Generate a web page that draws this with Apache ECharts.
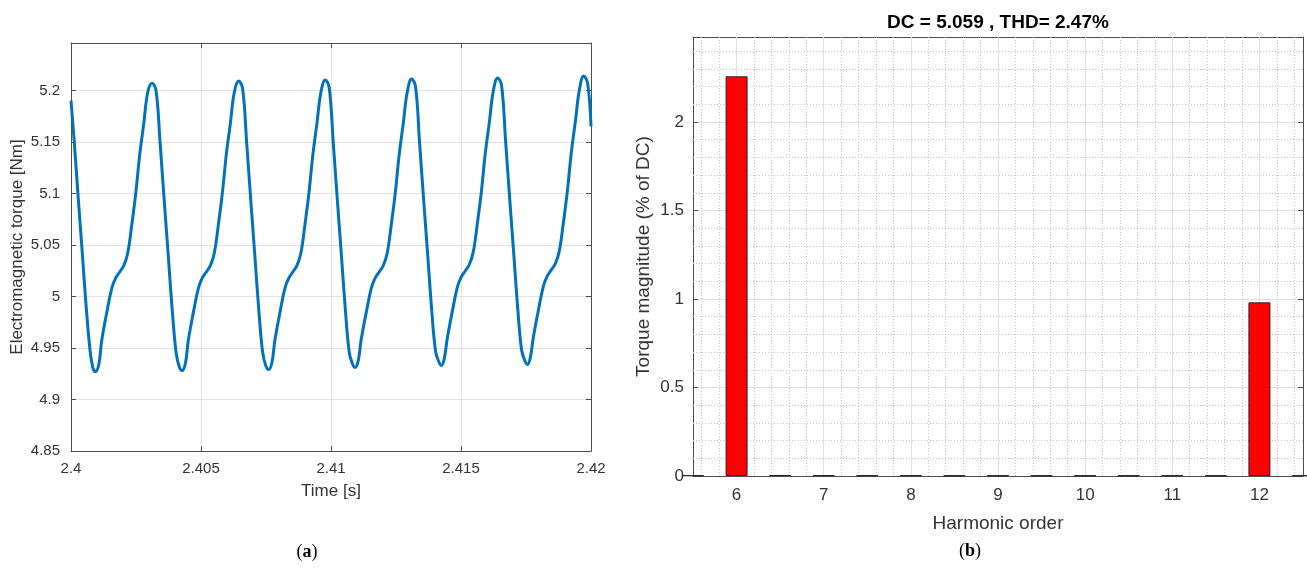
<!DOCTYPE html>
<html>
<head>
<meta charset="utf-8">
<script src="https://cdn.jsdelivr.net/npm/echarts@6/dist/echarts.min.js"></script>
<style>
  html, body { margin: 0; padding: 0; background: #fff; }
  #main { width: 1307px; height: 570px; }
</style>
</head>
<body>
<div id="main"></div>
<script>
// (a) torque waveform
const timeS = [
  2.40000, 2.40013, 2.40028, 2.40044, 2.40059, 2.40074, 2.40084, 2.40093,
  2.40107, 2.40118, 2.40138, 2.40157, 2.40172, 2.40188, 2.40203, 2.40218, 2.40234, 2.40249, 2.40264, 2.40280, 2.40295, 2.40312,
  2.40327, 2.40343, 2.40358, 2.40374, 2.40389, 2.40404, 2.40416, 2.40427,
  2.40440, 2.40451, 2.40471, 2.40490, 2.40505, 2.40521, 2.40536, 2.40551, 2.40567, 2.40582, 2.40597, 2.40613, 2.40628, 2.40645,
  2.40660, 2.40676, 2.40691, 2.40707, 2.40722, 2.40737, 2.40749, 2.40760,
  2.40773, 2.40784, 2.40804, 2.40823, 2.40838, 2.40854, 2.40869, 2.40884, 2.40900, 2.40915, 2.40930, 2.40946, 2.40961, 2.40978,
  2.40993, 2.41009, 2.41024, 2.41040, 2.41055, 2.41070, 2.41082, 2.41093,
  2.41105, 2.41116, 2.41136, 2.41155, 2.41170, 2.41186, 2.41201, 2.41216, 2.41232, 2.41247, 2.41262, 2.41278, 2.41293, 2.41310,
  2.41325, 2.41341, 2.41356, 2.41372, 2.41387, 2.41402, 2.41414, 2.41425,
  2.41436, 2.41447, 2.41467, 2.41486, 2.41501, 2.41517, 2.41532, 2.41547, 2.41563, 2.41578, 2.41593, 2.41609, 2.41624, 2.41641,
  2.41656, 2.41672, 2.41687, 2.41703, 2.41718, 2.41733, 2.41745, 2.41756,
  2.41767, 2.41778, 2.41798, 2.41817, 2.41832, 2.41848, 2.41863, 2.41878, 2.41894, 2.41909, 2.41924, 2.41940, 2.41955, 2.41972,
  2.41987, 2.42000
];
const torqueNm = [
  5.190, 5.148, 5.095, 5.040, 4.988, 4.946, 4.931, 4.927,
  4.934, 4.957, 4.985, 5.008, 5.018, 5.024, 5.030, 5.042, 5.070, 5.100, 5.137, 5.168, 5.198, 5.207,
  5.200, 5.148, 5.095, 5.040, 4.988, 4.946, 4.932, 4.928,
  4.935, 4.957, 4.985, 5.008, 5.018, 5.024, 5.030, 5.042, 5.070, 5.100, 5.137, 5.168, 5.198, 5.209,
  5.202, 5.148, 5.095, 5.040, 4.988, 4.946, 4.933, 4.929,
  4.936, 4.957, 4.985, 5.008, 5.018, 5.024, 5.030, 5.042, 5.070, 5.100, 5.137, 5.168, 5.198, 5.210,
  5.203, 5.148, 5.095, 5.040, 4.988, 4.946, 4.935, 4.931,
  4.938, 4.958, 4.985, 5.008, 5.018, 5.024, 5.030, 5.042, 5.070, 5.100, 5.137, 5.168, 5.198, 5.211,
  5.204, 5.148, 5.095, 5.040, 4.988, 4.947, 4.937, 4.933,
  4.940, 4.959, 4.986, 5.009, 5.019, 5.025, 5.031, 5.043, 5.071, 5.101, 5.138, 5.169, 5.199, 5.212,
  5.205, 5.149, 5.096, 5.041, 4.989, 4.948, 4.938, 4.934,
  4.941, 4.960, 4.987, 5.010, 5.020, 5.026, 5.032, 5.044, 5.072, 5.102, 5.139, 5.170, 5.200, 5.214,
  5.207, 5.165
];

// (b) harmonic spectrum
const harmonicOrder = [5.5, 6, 6.5, 7, 7.5, 8, 8.5, 9, 9.5, 10, 10.5, 11, 11.5, 12, 12.5];
const magnitudePct = [0.004, 2.258, 0.006, 0.005, 0.004, 0.004, 0.003, 0.003, 0.003, 0.003, 0.003, 0.003, 0.003, 0.981, 0.003];
const harmonicTicks = [6, 7, 8, 9, 10, 11, 12];

const FONT = 'Liberation Sans, Arial, sans-serif';
const AXIS_COLOR = '#4d4d4d';
const TEXT_COLOR = '#333';

// minor grid positions of the MATLAB style grid (b)
const xMinor = [];
for (let k = 28; k <= 62; k++) { if (k % 5 !== 0) xMinor.push(+(k * 0.2).toFixed(1)); }
const yMinor = [];
for (let k = 1; k <= 24; k++) { if (k % 5 !== 0) yMinor.push(+(k * 0.1).toFixed(1)); }

function stepLabel(step, digits) {
  return function (v) {
    const r = v / step;
    return Math.abs(r - Math.round(r)) < 1e-6 ? String(+v.toFixed(digits)) : '';
  };
}

function boxAxis(extra) {
  return Object.assign({
    axisLine: { onZero: false, lineStyle: { color: AXIS_COLOR, width: 1 } },
    axisTick: { inside: true, length: 5, lineStyle: { color: AXIS_COLOR } },
    axisLabel: { show: false },
    splitLine: { show: false }
  }, extra);
}

function gridLines(items, style) {
  return {
    type: 'line', xAxisIndex: 2, yAxisIndex: 2, data: [], z: 1,
    markLine: {
      silent: true, symbol: ['none', 'none'], animation: false, z: 1,
      label: { show: false },
      lineStyle: style,
      data: items
    }
  };
}

const chart = echarts.init(document.getElementById('main'));
chart.setOption({
  animation: false,
  textStyle: { fontFamily: FONT },
  grid: [
    { left: 71, right: 716, top: 43, bottom: 119 },
    { left: 693, right: 4, top: 37, bottom: 94 }
  ],
  xAxis: [
    boxAxis({
      type: 'value', gridIndex: 0, min: 2.4, max: 2.42, interval: 0.005,
      axisLabel: { show: true, fontSize: 15, color: TEXT_COLOR, margin: 10, formatter: stepLabel(0.005, 3) },
      splitLine: { show: true, lineStyle: { color: '#e3e3e3' } },
      name: 'Time [s]', nameLocation: 'middle', nameGap: 32,
      nameTextStyle: { fontSize: 17, color: TEXT_COLOR }
    }),
    boxAxis({ type: 'value', gridIndex: 0, position: 'top', min: 2.4, max: 2.42, interval: 0.005 }),
    boxAxis({
      type: 'value', gridIndex: 1, min: 5.5, max: 12.5,
      axisTick: { inside: true, length: 5, lineStyle: { color: AXIS_COLOR }, customValues: harmonicTicks },
      axisLabel: { show: true, fontSize: 17, color: TEXT_COLOR, margin: 11, customValues: harmonicTicks },
      name: 'Harmonic order', nameLocation: 'middle', nameGap: 38,
      nameTextStyle: { fontSize: 19, color: TEXT_COLOR }
    }),
    boxAxis({
      type: 'value', gridIndex: 1, position: 'top', min: 5.5, max: 12.5,
      axisTick: { inside: true, length: 5, lineStyle: { color: AXIS_COLOR }, customValues: harmonicTicks }
    })
  ],
  yAxis: [
    boxAxis({
      type: 'value', gridIndex: 0, min: 4.85, max: 5.246, interval: 0.05,
      axisLabel: { show: true, fontSize: 15, color: TEXT_COLOR, margin: 11, formatter: stepLabel(0.05, 2) },
      splitLine: { show: true, lineStyle: { color: '#e3e3e3' } },
      name: 'Electromagnetic torque [Nm]', nameLocation: 'middle', nameGap: 45,
      nameTextStyle: { fontSize: 17, color: TEXT_COLOR }
    }),
    boxAxis({ type: 'value', gridIndex: 0, position: 'right', min: 4.85, max: 5.246, interval: 0.05 }),
    boxAxis({
      type: 'value', gridIndex: 1, min: 0, max: 2.48, interval: 0.5,
      axisLabel: { show: true, fontSize: 17, color: TEXT_COLOR, margin: 9, formatter: stepLabel(0.5, 1) },
      splitLine: { show: true, lineStyle: { color: '#e0e0e0' } },
      name: 'Torque magnitude (% of DC)', nameLocation: 'middle', nameGap: 40,
      nameTextStyle: { fontSize: 19, color: TEXT_COLOR }
    }),
    boxAxis({ type: 'value', gridIndex: 1, position: 'right', min: 0, max: 2.48, interval: 0.5 })
  ],
  series: [
    {
      type: 'line', xAxisIndex: 0, yAxisIndex: 0,
      data: timeS.map((t, i) => [t, torqueNm[i]]),
      showSymbol: false, smooth: 0.4,
      lineStyle: { color: '#0072BD', width: 3 }
    },
    gridLines(
      xMinor.map(v => ({ xAxis: v })).concat(yMinor.map(v => ({ yAxis: v }))),
      { color: '#c4c4c4', type: [1, 2], width: 1 }
    ),
    gridLines(
      harmonicTicks.map(v => ({ xAxis: v })),
      { color: '#e0e0e0', type: 'solid', width: 1 }
    ),
    {
      type: 'bar', xAxisIndex: 2, yAxisIndex: 2,
      data: harmonicOrder.map((h, i) => [h, magnitudePct[i]]),
      barWidth: 22, z: 10,
      itemStyle: { color: '#ff0000', borderColor: '#262626', borderWidth: 1 }
    }
  ],
  graphic: [
    {
      type: 'text', x: 998, y: 23,
      style: {
        text: 'DC = 5.059 , THD= 2.47%', fill: '#000',
        font: 'bold 19px ' + FONT, textAlign: 'center', textVerticalAlign: 'middle'
      }
    },
    {
      type: 'text', x: 307, y: 552,
      style: {
        text: '{p|(}{b|a}{p|)}', textAlign: 'center', textVerticalAlign: 'middle',
        rich: {
          p: { fontFamily: 'Liberation Serif, serif', fontSize: 18, color: '#000' },
          b: { fontFamily: 'Liberation Serif, serif', fontSize: 18, fontWeight: 'bold', color: '#000' }
        }
      }
    },
    {
      type: 'text', x: 970, y: 551,
      style: {
        text: '{p|(}{b|b}{p|)}', textAlign: 'center', textVerticalAlign: 'middle',
        rich: {
          p: { fontFamily: 'Liberation Serif, serif', fontSize: 18, color: '#000' },
          b: { fontFamily: 'Liberation Serif, serif', fontSize: 18, fontWeight: 'bold', color: '#000' }
        }
      }
    }
  ]
});
</script>
</body>
</html>
